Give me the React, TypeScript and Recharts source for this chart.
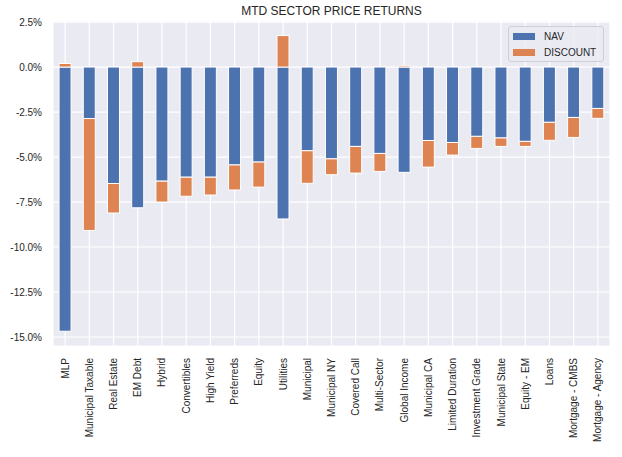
import React from 'react';
import { BarChart, Bar, XAxis, YAxis, CartesianGrid } from 'recharts';

const sectors = [
  'MLP', 'Municipal Taxable', 'Real Estate', 'EM Debt', 'Hybrid', 'Convertibles',
  'High Yield', 'Preferreds', 'Equity', 'Utilities', 'Municipal', 'Municipal NY',
  'Covered Call', 'Multi-Sector', 'Global Income', 'Municipal CA', 'Limited Duration',
  'Investment Grade', 'Municipal State', 'Equity - EM', 'Loans', 'Mortgage - CMBS',
  'Mortgage - Agency',
];

const navReturns = [
  -14.68, -2.86, -6.47, -7.82, -6.34, -6.12, -6.12, -5.44, -5.28, -8.44, -4.65, -5.1,
  -4.41, -4.8, -5.85, -4.08, -4.19, -3.85, -3.94, -4.13, -3.07, -2.8, -2.3,
];

const discountReturns = [
  0.2, -6.22, -1.64, 0.3, -1.16, -1.06, -0.99, -1.39, -1.39, 1.75, -1.81, -0.88,
  -1.48, -1.0, 0.07, -1.48, -0.7, -0.67, -0.47, -0.28, -1.0, -1.11, -0.55,
];

const yTicks = [2.5, 0, -2.5, -5, -7.5, -10, -12.5, -15];

const data = sectors.map((name, i) => ({
  name,
  nav: navReturns[i],
  discount: discountReturns[i],
}));

const FONT = '"Liberation Sans", Arial, sans-serif';
const TEXT = '#262626';

const RotatedTick = ({ x, y, payload }: any) => (
  <g transform={`translate(${x},${y})`}>
    <text
      transform="rotate(-90)"
      textAnchor="end"
      dominantBaseline="central"
      fill={TEXT}
      fontSize={10}
      fontFamily={FONT}
    >
      {payload.value}
    </text>
  </g>
);

// legend drawn outside the chart so it doesn't eat plot space
const LegendBox = () => (
  <div
    style={{
      position: 'absolute',
      left: 508,
      top: 26,
      width: 96,
      height: 36,
      background: 'rgba(234,234,242,0.8)',
      border: '1px solid #cfcfd6',
      borderRadius: 3,
      fontFamily: FONT,
      fontSize: 10,
      color: TEXT,
      boxSizing: 'border-box',
      padding: '2px 0 0 4px',
    }}
  >
    {[
      { label: 'NAV', color: '#4C72B0' },
      { label: 'DISCOUNT', color: '#DD8452' },
    ].map((it) => (
      <div key={it.label} style={{ display: 'flex', alignItems: 'center', height: 15.5 }}>
        <span style={{ width: 22, height: 7, background: it.color, marginRight: 9 }} />
        <span>{it.label}</span>
      </div>
    ))}
  </div>
);

export default function App() {
  return (
    <div style={{ position: 'absolute', left: 0, top: 0, width: 622, height: 457, background: '#fff' }}>
      <div
        style={{
          position: 'absolute',
          left: 53,
          width: 557,
          top: 4,
          textAlign: 'center',
          fontFamily: FONT,
          fontSize: 12,
          color: TEXT,
        }}
      >
        MTD SECTOR PRICE RETURNS
      </div>
      <BarChart
        width={622}
        height={457}
        data={data}
        stackOffset="sign"
        barCategoryGap="25%"
        margin={{ top: 21, right: 12, left: 0, bottom: 0 }}
      >
        <CartesianGrid fill="#EAEAF2" stroke="#ffffff" strokeWidth={1.2} />
        <XAxis
          dataKey="name"
          interval={0}
          height={111}
          axisLine={false}
          tickLine={false}
          tickSize={0}
          tickMargin={12}
          tick={<RotatedTick />}
        />
        <YAxis
          type="number"
          domain={[-15.5, 2.56]}
          allowDataOverflow
          ticks={yTicks}
          width={53}
          axisLine={false}
          tickLine={false}
          tickSize={0}
          tickMargin={11}
          tickFormatter={(v: number) => `${v.toFixed(1)}%`}
          tick={{ fill: TEXT, fontSize: 10, fontFamily: FONT }}
        />
        <Bar dataKey="nav" name="NAV" stackId="a" fill="#4C72B0" stroke="#ffffff" strokeWidth={1} isAnimationActive={false} />
        <Bar dataKey="discount" name="DISCOUNT" stackId="a" fill="#DD8452" stroke="#ffffff" strokeWidth={1} isAnimationActive={false} />
      </BarChart>
      <LegendBox />
    </div>
  );
}
